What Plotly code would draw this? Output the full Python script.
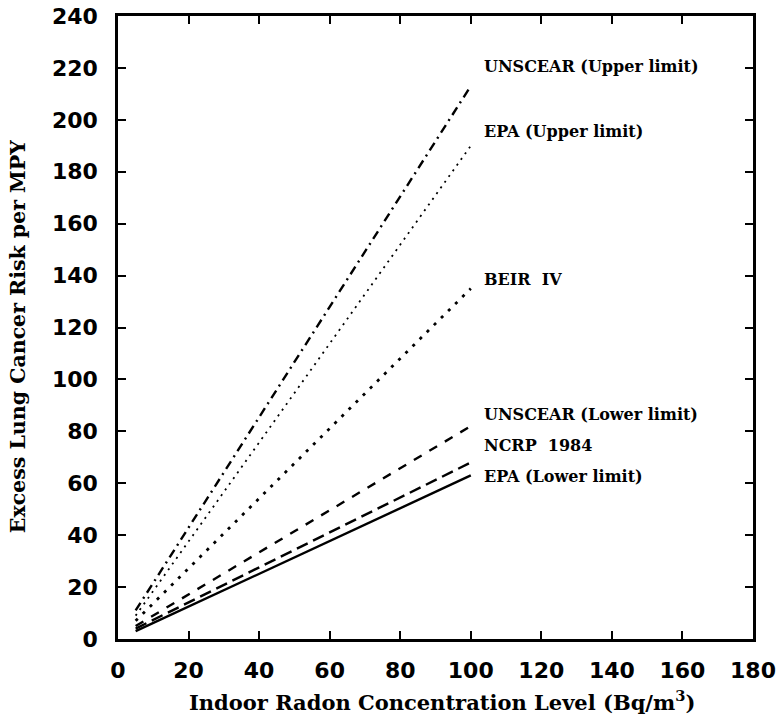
import plotly.graph_objects as go

# Data
x_vals = [5, 100]
series_names = ["UNSCEAR (Upper limit)", "EPA (Upper limit)", "BEIR IV",
                "UNSCEAR (Lower limit)", "NCRP 1984", "EPA (Lower limit)"]
unscear_upper = [11, 213]
epa_upper = [9, 190]
beir_iv = [7, 135]
unscear_lower = [5, 82]
ncrp_1984 = [4, 68]
epa_lower = [3, 63]
label_y = [220.5, 195.5, 138.5, 86.5, 74.5, 62.5]
x_ticks = [0, 20, 40, 60, 80, 100, 120, 140, 160, 180]
y_ticks = [0, 20, 40, 60, 80, 100, 120, 140, 160, 180, 200, 220, 240]

series_values = [unscear_upper, epa_upper, beir_iv, unscear_lower, ncrp_1984, epa_lower]
styles = [
    dict(dash="9px,5px,2px,5px", width=2.4),
    dict(dash="2px,5px", width=1.8),
    dict(dash="3px,7px", width=2.8),
    dict(dash="9px,9px", width=2.4),
    dict(dash="12px,6px", width=2.4),
    dict(dash="solid", width=2.4),
]
label_text = ["UNSCEAR (Upper limit)", "EPA (Upper limit)", "BEIR  IV",
              "UNSCEAR (Lower limit)", "NCRP  1984", "EPA (Lower limit)"]

fig = go.Figure()
for name, vals, st in zip(series_names, series_values, styles):
    fig.add_trace(go.Scatter(x=x_vals, y=vals, mode="lines", name=name,
                             line=dict(color="black", **st), showlegend=False))

for txt, ly in zip(label_text, label_y):
    fig.add_annotation(x=103.3, y=ly, text=txt, showarrow=False, xanchor="left",
                       yanchor="middle",
                       font=dict(family="DejaVu Serif", size=16, color="black", weight="bold"))

fig.add_annotation(xref="paper", yref="paper", x=0.51, y=-0.1,
                   text="Indoor Radon Concentration Level (Bq/m<sup>3</sup>)",
                   showarrow=False, xanchor="center", yanchor="middle",
                   font=dict(family="DejaVu Serif", size=21, color="black", weight="bold"))
fig.add_annotation(xref="paper", yref="paper", x=-0.157, y=0.485,
                   text="Excess Lung Cancer Risk per MPY", textangle=-90,
                   showarrow=False, xanchor="center", yanchor="middle",
                   font=dict(family="DejaVu Serif", size=20.5, color="black", weight="bold"))

axis_common = dict(showline=True, linecolor="black", linewidth=2.5, mirror="allticks",
                   ticks="inside", ticklen=8, tickwidth=1.5, tickcolor="black",
                   showgrid=False, zeroline=False, automargin=False,
                   ticklabeloverflow="allow",
                   tickfont=dict(family="DejaVu Sans", size=22, color="black", weight="bold"))

fig.update_xaxes(range=[0, 180], tickvals=x_ticks, ticktext=[str(v) for v in x_ticks],
                 ticklabelstandoff=10, **axis_common)
fig.update_yaxes(range=[0, 240], tickvals=y_ticks, ticktext=[str(v) for v in y_ticks],
                 ticklabelstandoff=13, **axis_common)

fig.update_layout(width=778, height=719, plot_bgcolor="white", paper_bgcolor="white",
                  margin=dict(l=118, r=25, t=16, b=80))

fig.write_html("out.html", config={"displayModeBar": False},
               post_script="document.body.style.margin='0';document.body.style.overflow='hidden';")
